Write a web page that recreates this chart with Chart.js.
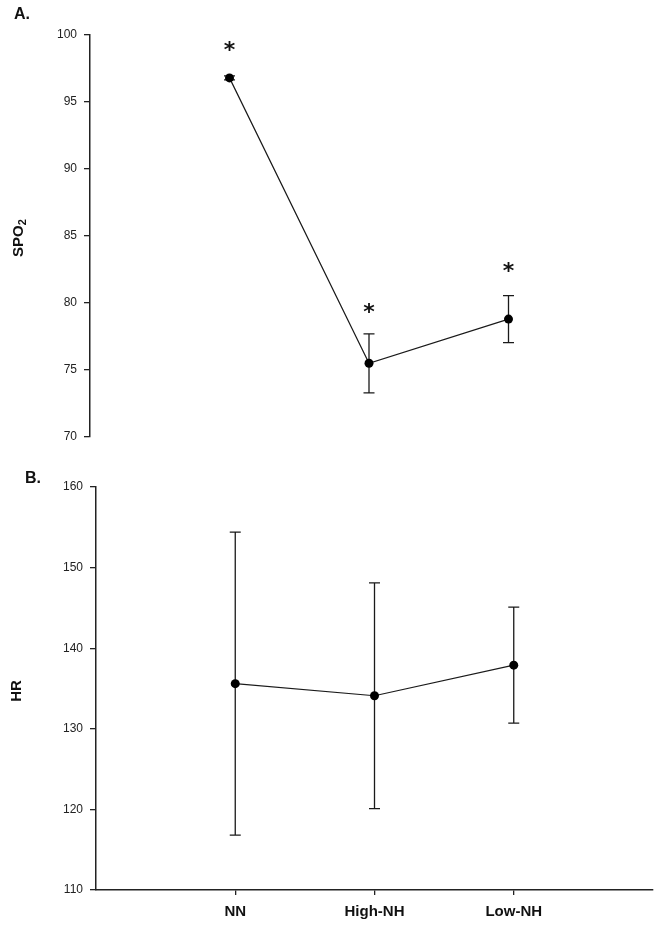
<!DOCTYPE html>
<html>
<head>
<meta charset="utf-8">
<script src="https://cdn.jsdelivr.net/npm/chart.js@4"></script>
<style>
  body { margin: 0; background: #fff; width: 661px; height: 926px; position: relative; overflow: hidden; }
  canvas { position: absolute; left: 0; }
  .lbl { position: absolute; font: bold 16px "Liberation Sans", Arial, sans-serif; color: #111; white-space: nowrap; }
  .ytitle { transform: translate(-50%, -50%) rotate(-90deg); font-size: 15px; }
  .ytitle sub { font-size: 11px; vertical-align: -3px; }
</style>
</head>
<body>
<canvas id="spo2" width="661" height="460" style="top:0"></canvas>
<canvas id="hr" width="661" height="466" style="top:460px"></canvas>
<div class="lbl" style="left:14px;top:5px">A.</div>
<div class="lbl" style="left:25px;top:469px">B.</div>
<div class="lbl ytitle" style="left:18px;top:238px">SPO<sub>2</sub></div>
<div class="lbl ytitle" style="left:15px;top:691px">HR</div>
<script>
// groups on the x axis
const categories = ['NN', 'High-NH', 'Low-NH'];

// panel A: oxygen saturation (mean, error, height of the * marker)
const spo2Mean = [96.8, 75.5, 78.8];
const spo2Err = [0.15, 2.2, 1.75];
const spo2Star = [99.2, 79.6, 82.7];
const spo2Ticks = { min: 70, max: 100, step: 5 };

// panel B: heart rate
const hrMean = [135.6, 134.1, 137.9];
const hrErr = [18.8, 14.0, 7.2];
const hrTicks = { min: 110, max: 160, step: 10 };

Chart.defaults.font.family = '"Liberation Sans", Arial, sans-serif';
Chart.defaults.color = '#222';

// empty slots on both ends so the groups sit at 1/4, 2/4, 3/4 of the axis
const xLabels = [''].concat(categories, ['']);
function padData(values) {
  return [null].concat(values, [null]);
}

// vertical error bars with caps, drawn under the points
const errorBars = {
  id: 'errorBars',
  beforeDatasetsDraw(chart, args, opts) {
    const { ctx, scales: { x, y } } = chart;
    ctx.save();
    ctx.strokeStyle = '#1a1a1a';
    ctx.lineWidth = 1.3;
    opts.means.forEach((m, i) => {
      const px = x.getPixelForValue(i + 1);
      const top = y.getPixelForValue(m + opts.errs[i]);
      const bot = y.getPixelForValue(m - opts.errs[i]);
      ctx.beginPath();
      ctx.moveTo(px, top); ctx.lineTo(px, bot);
      ctx.moveTo(px - 5.5, top); ctx.lineTo(px + 5.5, top);
      ctx.moveTo(px - 5.5, bot); ctx.lineTo(px + 5.5, bot);
      ctx.stroke();
    });
    ctx.restore();
  }
};

// significance asterisks above the groups
const stars = {
  id: 'stars',
  afterDatasetsDraw(chart, args, opts) {
    if (!opts.values) return;
    const { ctx, scales: { x, y } } = chart;
    ctx.save();
    ctx.fillStyle = '#111';
    ctx.font = 'bold 22px "DejaVu Sans", sans-serif';
    ctx.textAlign = 'center';
    ctx.textBaseline = 'alphabetic';
    const m = ctx.measureText('*');
    const shift = (m.actualBoundingBoxAscent - m.actualBoundingBoxDescent) / 2;
    opts.values.forEach((v, i) => {
      ctx.fillText('*', x.getPixelForValue(i + 1), y.getPixelForValue(v) + shift);
    });
    ctx.restore();
  }
};

function makePanel(id, means, errs, ticks, starValues, pad, axisWidth, showX) {
  return new Chart(document.getElementById(id), {
    type: 'line',
    data: {
      labels: xLabels,
      datasets: [{
        data: padData(means),
        borderColor: '#1a1a1a',
        borderWidth: 1.2,
        pointRadius: 4.5,
        pointBackgroundColor: '#000',
        pointBorderWidth: 0,
        tension: 0
      }]
    },
    plugins: [errorBars, stars],
    options: {
      responsive: false,
      animation: false,
      devicePixelRatio: 1,
      layout: { padding: pad },
      plugins: {
        legend: { display: false },
        tooltip: { enabled: false },
        errorBars: { means: means, errs: errs },
        stars: { values: starValues }
      },
      scales: {
        x: {
          display: showX,
          afterFit: s => { if (showX) s.height = 36; },
          grid: {
            drawOnChartArea: false,
            tickLength: 5,
            lineWidth: 1.3,
            color: c => (c.index === 0 || c.index === 4) ? 'rgba(0,0,0,0)' : '#222'
          },
          border: { color: '#222', width: 1.5 },
          ticks: {
            autoSkip: false,
            maxRotation: 0,
            padding: 8,
            color: '#111',
            font: { size: 15, weight: 'bold' }
          }
        },
        y: {
          min: ticks.min,
          max: ticks.max,
          afterFit: s => { s.width = axisWidth; },
          grid: { drawOnChartArea: false, tickLength: 6, lineWidth: 1.3, color: '#222' },
          border: { color: '#222', width: 1.5 },
          ticks: { stepSize: ticks.step, padding: 7, font: { size: 12 } }
        }
      }
    }
  });
}

makePanel('spo2', spo2Mean, spo2Err, spo2Ticks, spo2Star,
  { top: 35, bottom: 23, left: 0, right: 13 }, 90, false);
makePanel('hr', hrMean, hrErr, hrTicks, null,
  { top: 27, bottom: 0, left: 0, right: 8 }, 96, true);
</script>
</body>
</html>
